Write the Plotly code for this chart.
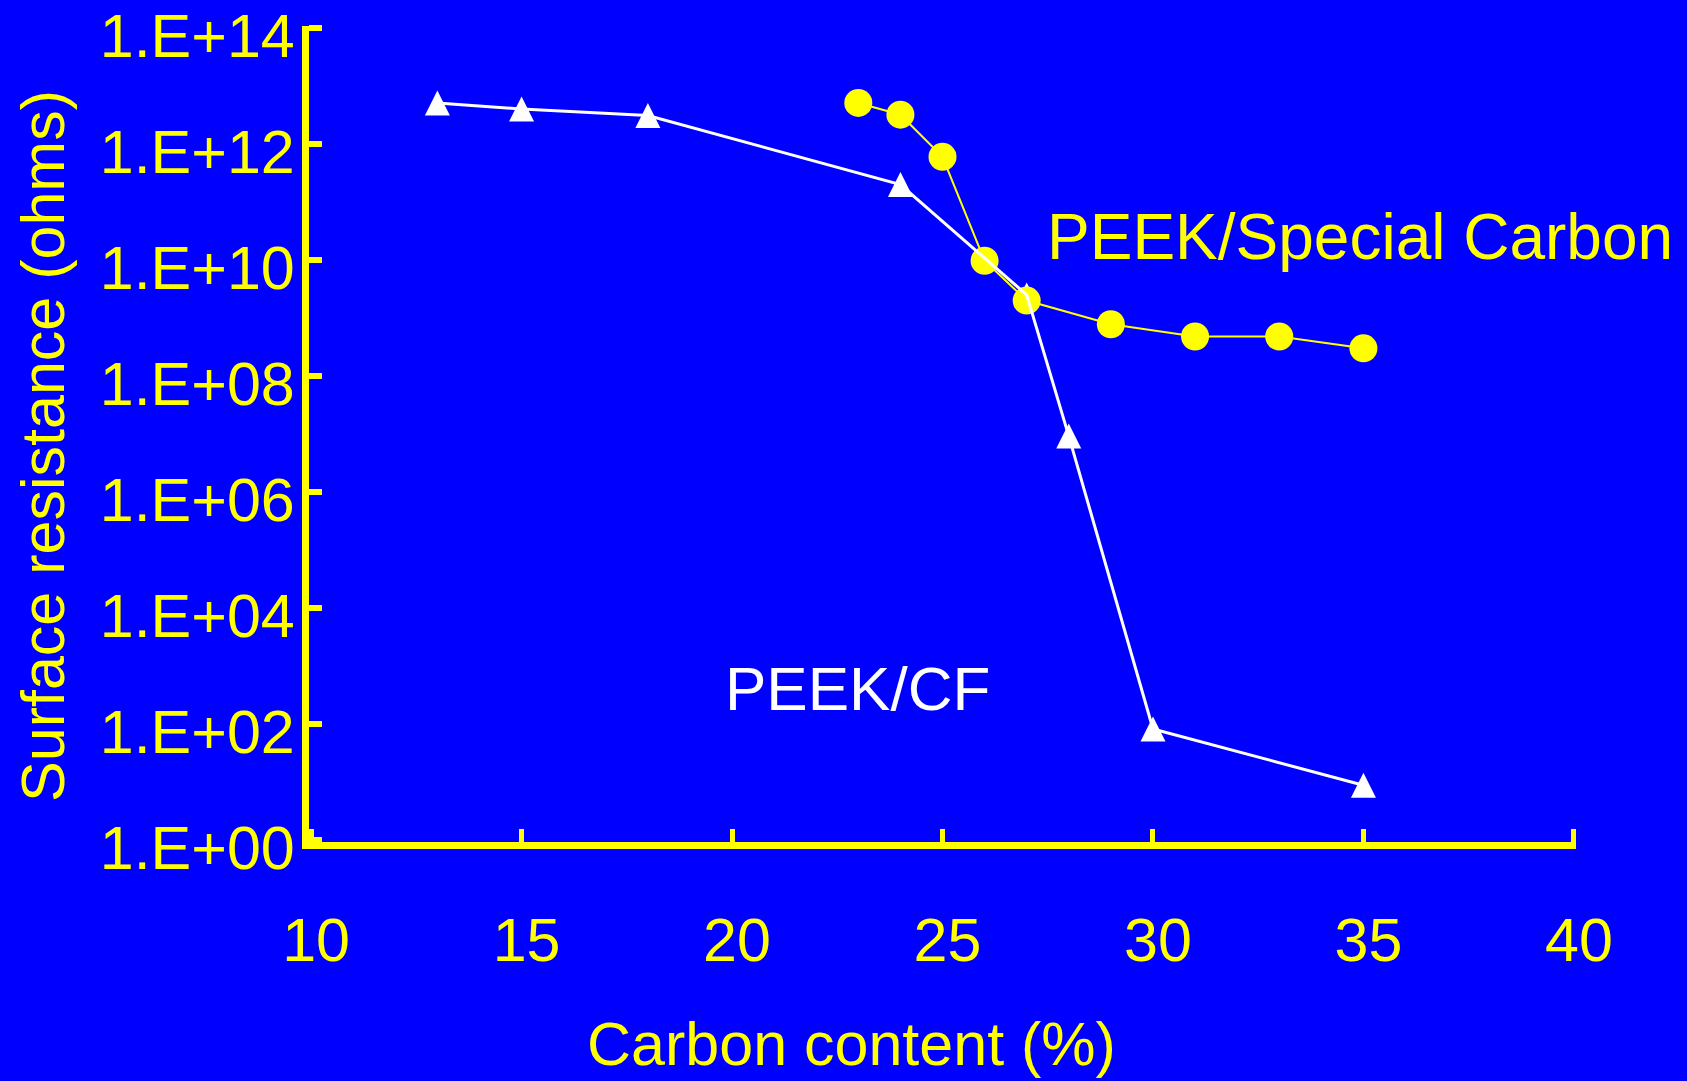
import plotly.graph_objects as go

# ---- data ----
cf_x = [13, 15, 18, 24, 27, 28, 30, 35]
cf_y = [5.1e12, 4.0e12, 3.1e12, 2.0e11, 2.5e9, 9.2e6, 82, 8.8]

sc_x = [23, 24, 25, 26, 27, 29, 31, 33, 35]
sc_y = [5.1e12, 3.2e12, 6.0e11, 9.7e9, 2.0e9, 7.8e8, 4.8e8, 4.8e8, 3.0e8]

x_tick_vals = [10, 15, 20, 25, 30, 35, 40]
y_tick_vals = [1e0, 1e2, 1e4, 1e6, 1e8, 1e10, 1e12, 1e14]
y_tick_text = ["1.E+00", "1.E+02", "1.E+04", "1.E+06", "1.E+08", "1.E+10", "1.E+12", "1.E+14"]

x_title = "Carbon content (%)"
y_title = "Surface resistance (ohms)"
label_sc = "PEEK/Special Carbon"
label_cf = "PEEK/CF"

BLUE = "#0000FF"
YELLOW = "#FFFF00"
WHITE = "#FFFFFF"
FONT = "Liberation Sans, Arial, sans-serif"

fig = go.Figure()

# PEEK/CF triangle markers (drawn beneath the yellow series)
# arrow-down rotated 180 deg with standoff = size/2 -> upward triangle centred on the point
fig.add_trace(go.Scatter(
    x=cf_x, y=cf_y, mode="markers", name=label_cf,
    marker=dict(symbol="arrow-down", angle=180, size=25, standoff=12.5,
                color=WHITE, line=dict(width=0)),
    showlegend=False,
))
# PEEK/Special Carbon
fig.add_trace(go.Scatter(
    x=sc_x, y=sc_y, mode="lines+markers", name=label_sc,
    line=dict(color=YELLOW, width=2),
    marker=dict(symbol="circle", size=28, color=YELLOW, line=dict(width=0)),
    showlegend=False,
))
# PEEK/CF connecting line on top
fig.add_trace(go.Scatter(
    x=cf_x, y=cf_y, mode="lines", name=label_cf,
    line=dict(color=WHITE, width=3),
    showlegend=False, hoverinfo="skip",
))

fig.update_layout(
    width=1687, height=1081,
    paper_bgcolor=BLUE, plot_bgcolor=BLUE,
    margin=dict(l=309, r=111, t=26, b=239, autoexpand=False),
    font=dict(family=FONT, color=YELLOW, size=61),
    showlegend=False,
    xaxis=dict(
        range=[9.95, 40.05], tickvals=x_tick_vals, automargin=False,
        showgrid=False, zeroline=False,
        showline=True, linecolor=YELLOW, linewidth=7,
        ticks="inside", ticklen=13, tickwidth=5, tickcolor=YELLOW,
        tickfont=dict(family=FONT, color=YELLOW, size=61),
        ticklabelstandoff=39, ticklabelshift=5,
    ),
    yaxis=dict(
        type="log", range=[-0.034, 14.034], tickvals=y_tick_vals, ticktext=y_tick_text,
        automargin=False,
        showgrid=False, zeroline=False,
        showline=True, linecolor=YELLOW, linewidth=7,
        ticks="inside", ticklen=13, tickwidth=6, tickcolor=YELLOW,
        tickfont=dict(family=FONT, color=YELLOW, size=61),
        ticklabelstandoff=-5, ticklabelshift=8,
    ),
    annotations=[
        dict(text=x_title, xref="paper", yref="paper", x=0.4278, y=-0.2475,
             xanchor="center", yanchor="middle", showarrow=False,
             font=dict(family=FONT, color=YELLOW, size=61)),
        dict(text=y_title, xref="paper", yref="paper", x=-0.21, y=0.4853,
             xanchor="center", yanchor="middle", showarrow=False, textangle=-90,
             font=dict(family=FONT, color=YELLOW, size=61)),
        dict(text=label_sc, xref="paper", yref="paper", x=0.5809, y=0.7414,
             xanchor="left", yanchor="middle", showarrow=False,
             font=dict(family=FONT, color=YELLOW, size=64)),
        dict(text=label_cf, xref="paper", yref="paper", x=0.3268, y=0.1887,
             xanchor="left", yanchor="middle", showarrow=False,
             font=dict(family=FONT, color=WHITE, size=62)),
    ],
)

fig.write_html("out.html")
